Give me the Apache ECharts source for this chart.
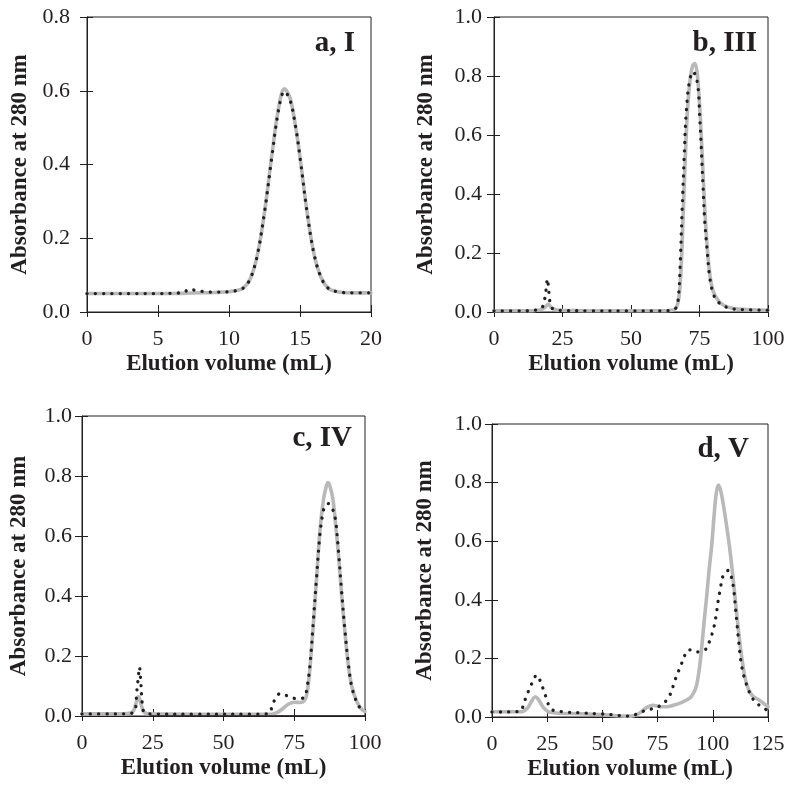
<!DOCTYPE html>
<html><head><meta charset="utf-8">
<script src="https://cdn.jsdelivr.net/npm/echarts@6/dist/echarts.min.js"></script>
<style>html,body{margin:0;padding:0;background:#fff}#c{width:795px;height:790px}</style>
</head><body><div id="c"></div>
<script>
// ---- data (elution volume mL, absorbance at 280 nm) ----
const A_GRAY = [[0,0.05],[1,0.05],[2,0.05],[3,0.05],[4,0.05],[5,0.05],[6,0.05],[7,0.051],[8,0.052],[9,0.053],[10,0.055],[10.5,0.058],[11,0.065],[11.5,0.09],[12,0.155],[12.5,0.27],[13,0.42],[13.5,0.555],[13.9,0.605],[14.3,0.58],[14.7,0.5],[15,0.42],[15.5,0.27],[16,0.155],[16.5,0.092],[17,0.064],[17.5,0.056],[18,0.053],[19,0.052],[20,0.052]];
const A_DOT = [[0,0.05],[1,0.05],[2,0.05],[3,0.05],[4,0.05],[5,0.05],[6,0.051],[6.8,0.053],[7.2,0.062],[7.7,0.058],[8.3,0.055],[9,0.054],[10,0.055],[10.5,0.058],[11,0.065],[11.5,0.09],[12,0.155],[12.5,0.27],[13,0.415],[13.5,0.55],[13.9,0.598],[14.3,0.575],[14.7,0.5],[15,0.42],[15.5,0.27],[16,0.155],[16.5,0.092],[17,0.064],[17.5,0.056],[18,0.053],[19,0.052],[20,0.052]];
const B_GRAY = [[0,0.004],[10,0.004],[15,0.005],[17,0.008],[18.5,0.015],[19.8,0.026],[21,0.014],[23,0.007],[30,0.005],[40,0.004],[50,0.004],[60,0.004],[65,0.006],[66.5,0.015],[67.5,0.05],[68.3,0.15],[69,0.32],[69.8,0.52],[70.6,0.68],[71.6,0.79],[72.5,0.835],[73.3,0.842],[74,0.82],[74.7,0.75],[75.3,0.66],[75.9,0.55],[76.5,0.43],[77.1,0.32],[77.9,0.21],[78.8,0.125],[80,0.07],[82,0.037],[84,0.022],[87,0.013],[92,0.008],[100,0.006]];
const B_DOT = [[0,0.004],[10,0.004],[15,0.006],[17.5,0.015],[18.4,0.04],[19.0,0.075],[19.5,0.112],[20.0,0.07],[20.5,0.03],[21.5,0.01],[23,0.006],[35,0.004],[50,0.004],[60,0.004],[65,0.006],[66.6,0.017],[67.4,0.06],[68,0.175],[68.7,0.356],[69.4,0.525],[70.2,0.684],[71.4,0.785],[72.7,0.815],[73.6,0.8],[74.5,0.76],[75.1,0.66],[75.7,0.548],[76.3,0.424],[76.9,0.31],[77.8,0.21],[78.7,0.12],[80,0.062],[81.8,0.034],[84.2,0.019],[86.6,0.011],[91.5,0.008],[100,0.006]];
const C_GRAY = [[0,0.007],[10,0.007],[16,0.008],[18,0.015],[19,0.04],[20,0.065],[21,0.035],[22,0.012],[24,0.007],[40,0.006],[60,0.006],[67,0.006],[69,0.012],[71,0.025],[73,0.04],[75,0.046],[77,0.045],[78.5,0.05],[79.5,0.075],[80.5,0.155],[81.7,0.3],[82.9,0.46],[84.1,0.62],[85.3,0.72],[86.3,0.765],[87,0.778],[87.8,0.76],[88.7,0.72],[89.6,0.64],[90.6,0.54],[91.7,0.41],[92.9,0.28],[94.1,0.17],[95.3,0.1],[97,0.05],[98.8,0.022],[100,0.015]];
const C_DOT = [[0,0.007],[10,0.007],[17,0.008],[18.8,0.02],[19.3,0.075],[19.8,0.12],[20.3,0.163],[20.8,0.11],[21.3,0.04],[22,0.012],[24,0.007],[40,0.006],[60,0.006],[66,0.008],[67,0.026],[67.8,0.048],[69,0.068],[70,0.075],[72.3,0.068],[75.2,0.059],[77.6,0.059],[78.8,0.064],[79.4,0.087],[80.5,0.164],[81.7,0.31],[82.9,0.464],[84.1,0.608],[85.3,0.685],[86.3,0.705],[87,0.708],[88,0.7],[89.4,0.664],[90.6,0.553],[91.7,0.42],[92.9,0.286],[94.1,0.175],[95.3,0.098],[97,0.048],[98.8,0.02],[100,0.014]];
const C_BASE = [[24,0],[100,0]];
const D_GRAY = [[0,0.018],[10,0.018],[13.4,0.018],[16,0.03],[18,0.055],[19.5,0.069],[21,0.06],[23,0.035],[25,0.02],[26.3,0.016],[30,0.013],[40,0.011],[50,0.008],[55,0.005],[60,0.003],[63,0.003],[66,0.01],[68,0.02],[70,0.032],[73,0.04],[76.1,0.035],[79,0.035],[82.1,0.04],[86,0.05],[89.7,0.065],[91.5,0.085],[92.7,0.11],[94,0.17],[95,0.24],[96,0.32],[97.2,0.41],[98.3,0.5],[99.5,0.585],[100.5,0.68],[101.5,0.76],[102.5,0.792],[103.3,0.78],[104.2,0.75],[105.2,0.705],[106.3,0.65],[107.5,0.585],[108.6,0.515],[109.7,0.435],[110.8,0.355],[112,0.27],[113.1,0.205],[114.2,0.15],[115.4,0.11],[116.8,0.085],[118.3,0.07],[120,0.062],[121.5,0.055],[123.6,0.043],[125,0.036]];
const D_DOT = [[0,0.017],[5,0.017],[10,0.018],[13,0.02],[14.2,0.041],[15.5,0.07],[16.9,0.095],[18.4,0.12],[20.2,0.143],[22,0.12],[23.6,0.086],[24.8,0.06],[26,0.035],[27.5,0.024],[29.3,0.021],[33,0.017],[40.7,0.014],[48.2,0.011],[52.7,0.009],[56.5,0.006],[60.2,0.003],[64,0.006],[66,0.012],[67.8,0.018],[71.6,0.026],[75.3,0.035],[78.4,0.052],[80.6,0.075],[82.9,0.126],[84.4,0.155],[85.9,0.183],[87.4,0.212],[88.8,0.228],[90.4,0.229],[92.3,0.222],[94.2,0.223],[95.8,0.228],[97.2,0.234],[98.7,0.263],[100.2,0.297],[101.4,0.342],[102.5,0.4],[103.3,0.433],[104.8,0.485],[107,0.5],[108.3,0.48],[109.3,0.445],[110.1,0.388],[110.8,0.331],[111.5,0.274],[112.3,0.217],[113.1,0.172],[114.6,0.126],[116.8,0.081],[119.1,0.052],[122.1,0.035],[124.4,0.024],[125,0.022]];

const LABELS = ['a, I','b, III','c, IV','d, V'];
const X_MAX = [20,100,100,125];
const X_INT = [5,25,25,25];
const Y_MAX = [0.8,1.0,1.0,1.0];
const X_NAME = 'Elution volume (mL)';
const Y_NAME = 'Absorbance at 280 nm';

// ---- layout ----
const INK = '#231f20';
const GRAYC = '#b9b9b9';
const SERIF = '"Liberation Serif","Times New Roman",serif';
const GRIDS = [
  {left:87, top:17, width:284, height:295},
  {left:494, top:17, width:274, height:295},
  {left:82, top:416, width:283, height:300},
  {left:492, top:424, width:276, height:293}
];
const YGAP = [55,56,51,55];
const YLAB_MARGIN = [17,12,10,10];
const LAB_POS = [{right:440,top:29},{right:38,top:29},{right:443,top:424},{right:46,top:435}];

const grayData = [A_GRAY,B_GRAY,C_GRAY,D_GRAY];
const dotData = [A_DOT,B_DOT,C_DOT,D_DOT];

const grid=[], xAxis=[], yAxis=[], series=[], title=[];
for (let i=0;i<4;i++){
  grid.push(Object.assign({show:true, borderColor:INK, borderWidth:1, backgroundColor:'transparent', containLabel:false, outerBoundsMode:'none'}, GRIDS[i]));
  xAxis.push({gridIndex:i, type:'value', min:0, max:X_MAX[i], interval:X_INT[i], position:'bottom',
    axisLine:{show:true, onZero:false, lineStyle:{color:INK,width:1}},
    axisTick:{show:true, inside:false, length:5, lineStyle:{color:INK,width:1}},
    axisLabel:{margin:16, color:INK, fontSize:22, fontFamily:SERIF},
    splitLine:{show:false},
    name:X_NAME, nameLocation:'middle', nameGap:41,
    nameTextStyle:{fontSize:23, fontWeight:'bold', color:INK, fontFamily:SERIF}});
  xAxis.push({gridIndex:i, type:'value', min:0, max:X_MAX[i], interval:X_INT[i], position:'bottom',
    axisLine:{show:false, onZero:false}, axisTick:{show:true, inside:true, length:7, lineStyle:{color:INK,width:1}},
    axisLabel:{show:false}, splitLine:{show:false}});
  yAxis.push({gridIndex:i, type:'value', min:0, max:Y_MAX[i], interval:0.2, position:'left',
    axisLine:{show:true, onZero:false, lineStyle:{color:INK,width:1}},
    axisTick:{show:true, inside:false, length:7, lineStyle:{color:INK,width:1}},
    axisLabel:{margin:YLAB_MARGIN[i], color:INK, fontSize:22, fontFamily:SERIF, formatter:v=>v.toFixed(1)},
    splitLine:{show:false},
    name:Y_NAME, nameLocation:'middle', nameGap:YGAP[i], nameRotate:90,
    nameTextStyle:{fontSize:23, fontWeight:'bold', color:INK, fontFamily:SERIF}});
  yAxis.push({gridIndex:i, type:'value', min:0, max:Y_MAX[i], interval:0.2, position:'left',
    axisLine:{show:false, onZero:false}, axisTick:{show:true, inside:true, length:6, lineStyle:{color:INK,width:1}},
    axisLabel:{show:false}, splitLine:{show:false}});
  series.push({type:'line', xAxisIndex:2*i, yAxisIndex:2*i, data:grayData[i], showSymbol:false, smooth:0.35, z:2,
    lineStyle:{color:GRAYC, width:3.6, cap:'round', join:'round'}});
  series.push({type:'line', xAxisIndex:2*i, yAxisIndex:2*i, data:dotData[i], showSymbol:false, smooth:0.35, z:3,
    lineStyle:{color:INK, width:3.3, type:[0.1,8.2], cap:'round', join:'round'}});
  title.push(Object.assign({text:LABELS[i], padding:0,
    textStyle:{fontSize:29, fontWeight:'bold', color:INK, fontFamily:SERIF, lineHeight:29}}, LAB_POS[i]));
}
series.push({type:'line', xAxisIndex:4, yAxisIndex:4, data:C_BASE, showSymbol:false, clip:false, z:4,
  lineStyle:{color:INK, width:1.6}});

const chart = echarts.init(document.getElementById('c'), null, {renderer:'canvas'});
chart.setOption({animation:false, backgroundColor:'#fff', title, grid, xAxis, yAxis, series});
</script></body></html>
